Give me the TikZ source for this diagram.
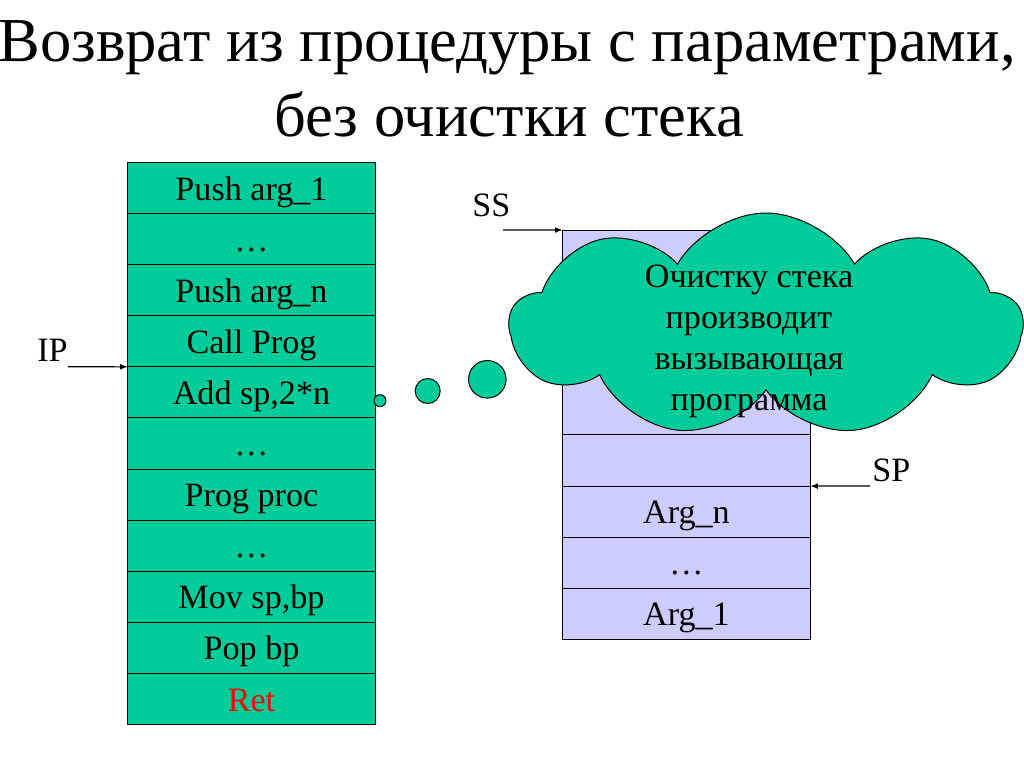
\documentclass[tikz,border=0pt]{standalone}
\usepackage{fontspec}
\setmainfont{Liberation Serif}
\usetikzlibrary{positioning,shapes.symbols}
\definecolor{cellgreen}{HTML}{00CC99}
\definecolor{stacklilac}{HTML}{CCCCFF}

\begin{document}
\begin{tikzpicture}[x=0.703125pt, y=-0.703125pt,
    cell/.style={draw, line width=0.7pt, fill=cellgreen,
      minimum width=174.4pt, minimum height=35.93pt,
      outer sep=0pt, inner sep=0pt, text height=17pt, text depth=0pt,
      font=\fontsize{24}{28.8}\selectfont},
    slot/.style={cell, fill=stacklilac},
    puff/.style={circle, draw, line width=0.7pt, fill=cellgreen, inner sep=0pt},
    tag/.style={font=\fontsize{24}{28.8}\selectfont, inner sep=0pt, anchor=base west},
    pointer/.style={-latex, line width=0.8pt}]
  \useasboundingbox (0,0) rectangle (1024,768);

  % title
  \node[font=\fontsize{44}{52.8}\selectfont, anchor=base] (title1) at (507,61.7)
    {Возврат из процедуры с параметрами,};
  \node[font=\fontsize{44}{52.8}\selectfont, anchor=base] (title2) at (509,136.7)
    {без очистки стека};

  % program code
  \node[cell] (push1) at (251.5,188) {Push arg\_1};
  \node[cell, below=0pt of push1] (dots1) {…};
  \node[cell, below=0pt of dots1] (pushn) {Push arg\_n};
  \node[cell, below=0pt of pushn] (call) {Call Prog};
  \node[cell, below=0pt of call] (add) {Add sp,2*n};
  \node[cell, below=0pt of add] (dots2) {…};
  \node[cell, below=0pt of dots2] (proc) {Prog proc};
  \node[cell, below=0pt of proc] (dots3) {…};
  \node[cell, below=0pt of dots3] (mov) {Mov sp,bp};
  \node[cell, below=0pt of mov] (pop) {Pop bp};
  \node[cell, below=0pt of pop, text=red] (ret) {Ret};

  % stack
  \node[slot, minimum height=144.1pt] (stk) at (686.5,332.5) {};
  \node[slot, below=0pt of stk] (free) {};
  \node[slot, below=0pt of free] (argn) {Arg\_n};
  \node[slot, below=0pt of argn] (dots4) {…};
  \node[slot, below=0pt of dots4] (arg1) {Arg\_1};

  % pointers
  \node[tag] (ip) at (37,361.7) {IP};
  \coordinate (ipfrom) at (68,366.7);
  \draw[pointer] (ipfrom) -- (call.south west);
  \node[tag] (ss) at (472,216.7) {SS};
  \coordinate (ssfrom) at (503,230);
  \draw[pointer] (ssfrom) -- (stk.north west);
  \node[tag] (sp) at (872,481.7) {SP};
  \coordinate (spfrom) at (870,486);
  \draw[pointer] (spfrom) -- (free.south east);

  % callout
  \node[cloud, cloud puffs=9, cloud puff arc=120, cloud ignores aspect,
    draw, line width=0.7pt, fill=cellgreen,
    minimum width=360pt, minimum height=157.5pt] (cloud) at (766,325) {};
  \node[align=center, font=\fontsize{24}{28.8}\selectfont] (note) at (749,341)
    {Очистку стека\\производит\\вызывающая\\программа};
  \node[puff, minimum size=8.4pt] (b1) at (380,400.7) {};
  \node[puff, minimum size=17.6pt] (b2) at (427.7,391) {};
  \node[puff, minimum size=26.4pt] (b3) at (487.3,379.3) {};
\end{tikzpicture}
\end{document}
